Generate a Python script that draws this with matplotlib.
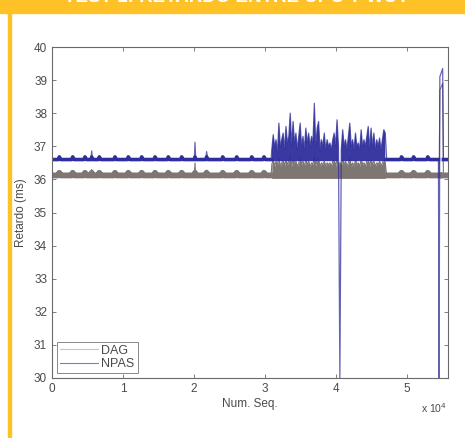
import numpy as np
import matplotlib
matplotlib.use("Agg")
import matplotlib.pyplot as plt
from matplotlib.patches import Rectangle

plt.rcParams['font.family'] = ['Liberation Sans', 'DejaVu Sans']

# --- datos ---
# NPAS, tramo tranquilo (0 - 31000)
npas_a_x = [0, 880, 1030, 1250, 2770, 2920, 3150, 4500, 4650, 4880, 5500, 5600, 5700,
            6520, 6670, 6900, 8730, 8880, 9100, 10610, 10760, 11000, 12500, 12650, 12880,
            14380, 14530, 14760, 16250, 16400, 16630, 18140, 18290, 18520, 20070, 20170,
            20270, 21700, 21800, 22000, 23930, 24080, 24300, 25900, 26050, 26280, 28020,
            28170, 28400, 29750, 29900, 30130, 30900]
npas_a_y = [36.6, 36.6, 36.68, 36.6, 36.6, 36.68, 36.6, 36.6, 36.68, 36.6, 36.6, 36.86, 36.6,
            36.6, 36.68, 36.6, 36.6, 36.68, 36.6, 36.6, 36.68, 36.6, 36.6, 36.68, 36.6,
            36.6, 36.68, 36.6, 36.6, 36.68, 36.6, 36.6, 36.68, 36.6, 36.6, 37.12,
            36.6, 36.6, 36.84, 36.6, 36.6, 36.68, 36.6, 36.6, 36.68, 36.6, 36.6,
            36.68, 36.6, 36.6, 36.68, 36.6, 36.6]
# NPAS, tramo ruidoso (31000 - 47000, cada 200)
busy_x = list(range(31000, 47001, 200))
npas_b_y = [36.9, 37.35, 37.0, 37.2, 36.8, 37.7, 37.0, 37.2, 37.4, 36.9,
            37.6, 37.1, 37.3, 38.0, 37.0, 37.75, 37.1, 37.4, 36.9, 37.3,
            37.7, 37.0, 37.3, 36.9, 37.55, 37.1, 37.4, 37.0, 37.3, 37.1,
            38.3, 37.0, 37.55, 37.75, 36.9, 37.2, 37.0, 37.4, 36.9, 37.2,
            37.0, 37.1, 36.9, 37.2, 37.4, 37.0, 37.8, 37.0, 30.0, 36.9,
            37.5, 37.0, 37.2, 36.9, 37.3, 37.7, 37.0, 37.2, 36.9, 37.4,
            37.0, 37.1, 36.9, 37.5, 37.0, 37.2, 37.0, 37.3, 37.6, 36.9,
            37.55, 37.0, 37.4, 36.9, 37.2, 37.0, 37.25, 36.9, 37.2, 37.5, 37.4]
# NPAS, tramo final
npas_c_x = [47200, 49150, 49300, 49530, 50850, 51000, 51230, 52850, 53000, 53230,
            54500, 54600, 54700, 55100, 55200, 55700]
npas_c_y = [36.6, 36.6, 36.68, 36.6, 36.6, 36.68, 36.6, 36.6, 36.68, 36.6,
            36.6, 30.0, 39.1, 39.35, 36.6, 36.6]

# DAG
dag_a_y = [36.12, 36.12, 36.2, 36.12, 36.12, 36.2, 36.12, 36.12, 36.2, 36.12, 36.12, 36.3, 36.12,
           36.12, 36.2, 36.12, 36.12, 36.2, 36.12, 36.12, 36.2, 36.12, 36.12, 36.2, 36.12,
           36.12, 36.2, 36.12, 36.12, 36.2, 36.12, 36.12, 36.2, 36.12, 36.12, 36.5,
           36.12, 36.12, 36.28, 36.12, 36.12, 36.2, 36.12, 36.12, 36.2, 36.12, 36.12,
           36.2, 36.12, 36.12, 36.2, 36.12, 36.12]
dag_b_y = [36.45, 36.6, 36.4, 36.55, 36.45, 36.65, 36.4, 36.5, 36.6, 36.4,
           36.6, 36.45, 36.55, 36.7, 36.4, 36.6, 36.5, 36.55, 36.4, 36.5,
           36.65, 36.45, 36.55, 36.4, 36.6, 36.45, 36.55, 36.4, 36.5, 36.45,
           36.7, 36.4, 36.6, 36.6, 36.4, 36.5, 36.45, 36.55, 36.4, 36.5,
           36.45, 36.5, 36.4, 36.55, 36.6, 36.4, 36.6, 36.45, 36.5, 36.4,
           36.6, 36.45, 36.55, 36.4, 36.5, 36.65, 36.4, 36.5, 36.4, 36.6,
           36.45, 36.5, 36.4, 36.6, 36.45, 36.5, 36.4, 36.55, 36.6, 36.4,
           36.6, 36.45, 36.55, 36.4, 36.5, 36.45, 36.55, 36.4, 36.5, 36.6, 36.5]
dag_c_x = [47200, 49150, 49300, 49530, 50850, 51000, 51230, 52850, 53000, 53230,
           54600, 54700, 55100, 55200, 55700]
dag_c_y = [36.12, 36.12, 36.2, 36.12, 36.12, 36.2, 36.12, 36.12, 36.2, 36.12,
           36.12, 38.7, 38.9, 36.12, 36.12]

xticks = [0, 10000, 20000, 30000, 40000, 50000]
xticklabels = ['0', '1', '2', '3', '4', '5']
yticks = list(range(30, 41))

c_npas = '#2e2e9c'
c_dag = '#7d7672'
c_txt = '#4a4a4a'
c_spine = '#6a6a6a'
amarillo = '#fec227'

npas_x = np.array(npas_a_x + busy_x + npas_c_x, dtype=float)
npas_y = np.array(npas_a_y + npas_b_y + npas_c_y)
dag_x = np.array(npas_a_x + busy_x + dag_c_x, dtype=float)
dag_y = np.array(dag_a_y + dag_b_y + dag_c_y)

W, H = 465, 438
fig = plt.figure(figsize=(W / 100, H / 100), dpi=100)
fig.patch.set_facecolor('white')

# marco amarillo
fig.patches.append(Rectangle((0, (H - 13) / H), 1, 13 / H, transform=fig.transFigure,
                             color=amarillo, zorder=0))
fig.patches.append(Rectangle((8 / W, 0), 2.5 / W, (H - 13) / H, transform=fig.transFigure,
                             color=amarillo, zorder=0))
fig.text(236 / W, (H - 2.5) / H, 'TEST 1: RETARDO ENTRE UPC Y WUT', color='white',
         fontsize=13.5, fontweight='bold', ha='center', va='baseline')

ax = fig.add_axes([52 / W, (H - 378) / H, (448 - 52) / W, (378 - 47) / H])

# banda de ruido (grosor): solo tramos tranquilos, recortada a la franja base
bx = np.array(busy_x, dtype=float)
calm_d = (dag_y > 35) & (dag_y < 38.5) & ((dag_x < bx[0]) | (dag_x > bx[-1]))
calm_n = (npas_y > 35) & (npas_y < 38.5) & ((npas_x < bx[0]) | (npas_x > bx[-1]))
band_d = np.where(calm_d, np.minimum(dag_y, 36.2), np.nan)
band_n = np.where(calm_n, np.minimum(npas_y, 36.68), np.nan)
dy = np.array(dag_b_y)
ny = np.array(npas_b_y)

ax.plot(dag_x, band_d, color=c_dag, lw=4.2, solid_joinstyle='round', zorder=1)
ax.fill_between(bx, 36.03, dy, color=c_dag, lw=0, zorder=1)
ax.plot(dag_x, dag_y, color=c_dag, lw=0.8, label='DAG', zorder=1.5)

ax.plot(npas_x, band_n, color=c_npas, lw=2.6, solid_joinstyle='round', zorder=3)
ax.fill_between(bx, 36.55, ny, where=ny > 36.6, color=c_npas, lw=0, alpha=0.95, zorder=3)
ax.plot(npas_x, npas_y, color=c_npas, lw=0.9, alpha=0.75, label='NPAS', zorder=3.5)

ax.set_xlim(0, 55850)
ax.set_ylim(30, 40)
ax.set_xticks(xticks)
ax.set_xticklabels(xticklabels)
ax.set_yticks(yticks)
ax.tick_params(direction='in', length=3, width=0.6, top=True, right=True,
               labelsize=8.5, labelcolor=c_txt, color=c_spine, pad=3.5)
for s in ax.spines.values():
    s.set_color(c_spine)
    s.set_linewidth(0.8)
    s.set_zorder(5)

ax.set_ylabel('Retardo (ms)', fontsize=8.5, color=c_txt, labelpad=5)
ax.set_xlabel('Num. Seq.', fontsize=8.5, color=c_txt, labelpad=2)
fig.text(421 / W, (H - 413) / H, r'x 10$^4$', fontsize=7.5, color=c_txt)

leg = ax.legend(loc='lower left', fontsize=9, frameon=True, fancybox=False,
                handlelength=3.0, borderaxespad=0.4, labelspacing=0.1,
                borderpad=0.25, handletextpad=0.3)
leg.get_frame().set_edgecolor(c_spine)
leg.get_frame().set_linewidth(0.7)
leg.set_zorder(6)
for t in leg.get_texts():
    t.set_color(c_txt)
for h in leg.get_lines():
    h.set_linewidth(0.8)
    h.set_alpha(1)
leg.get_lines()[0].set_color('#c8c4c2')
leg.get_lines()[1].set_color('#7a7ad0')

fig.savefig('out.png', dpi=100, facecolor='white')
